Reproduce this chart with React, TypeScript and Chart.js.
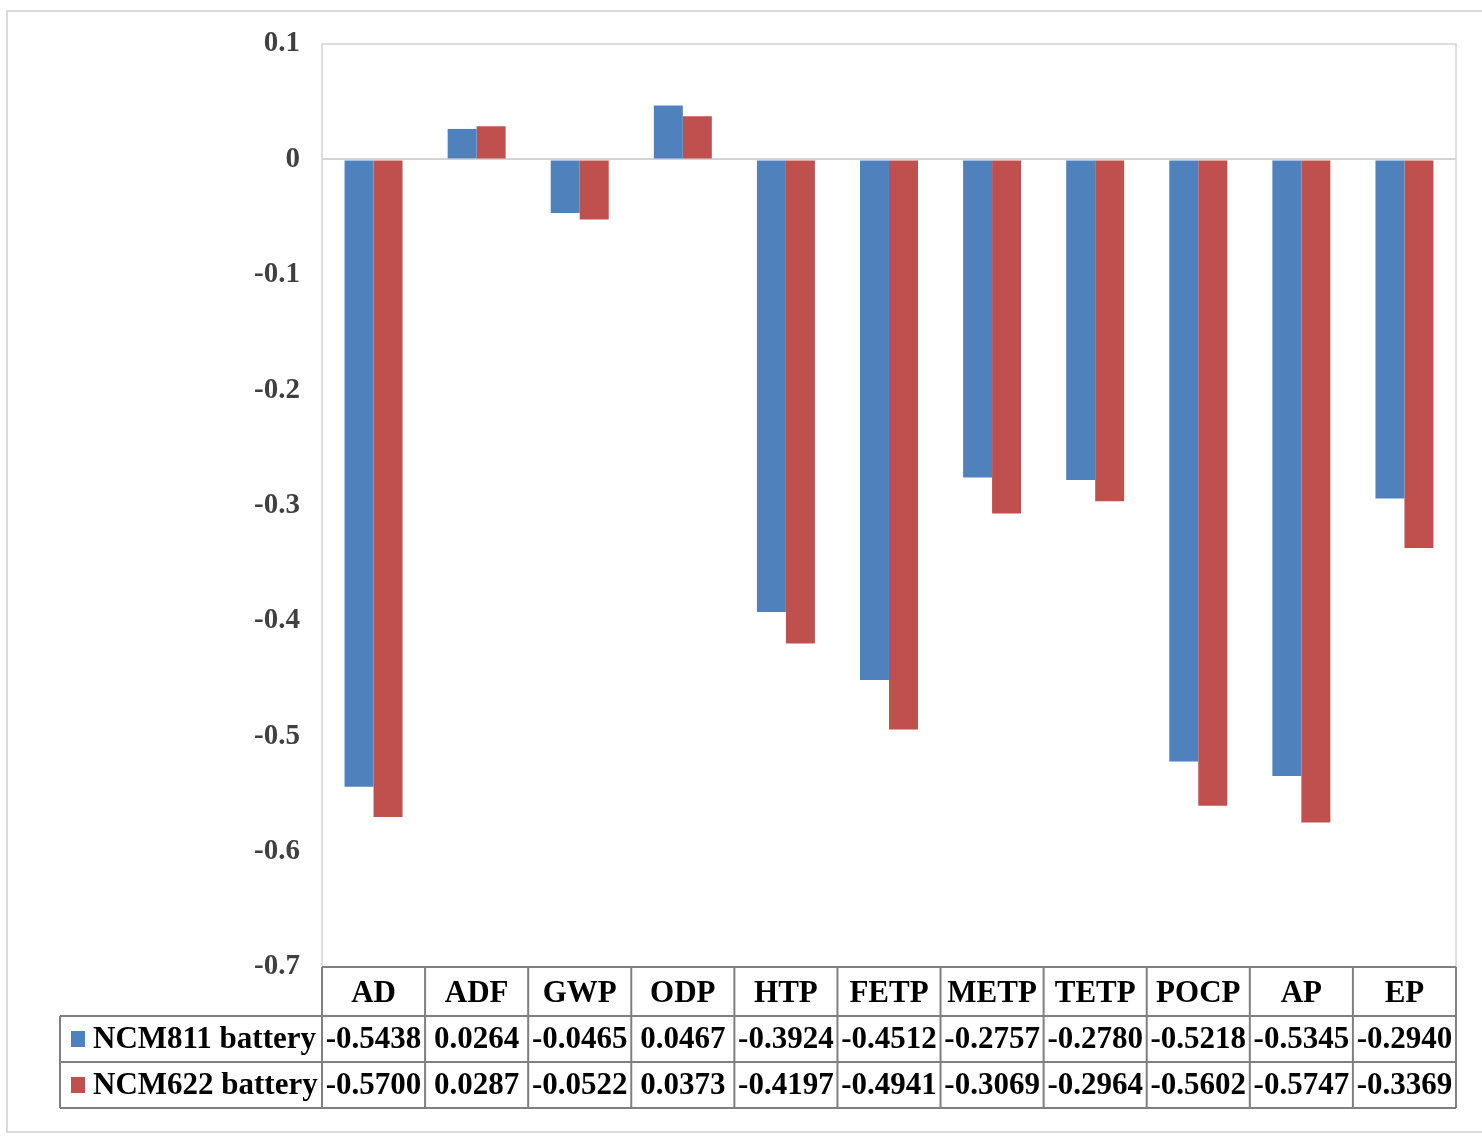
import React, { useEffect, useRef } from "react";
import { Chart, registerables } from "chart.js";

Chart.register(...registerables);

const categories = ["AD", "ADF", "GWP", "ODP", "HTP", "FETP", "METP", "TETP", "POCP", "AP", "EP"];
const ncm811 = [-0.5438, 0.0264, -0.0465, 0.0467, -0.3924, -0.4512, -0.2757, -0.278, -0.5218, -0.5345, -0.294];
const ncm622 = [-0.57, 0.0287, -0.0522, 0.0373, -0.4197, -0.4941, -0.3069, -0.2964, -0.5602, -0.5747, -0.3369];
const seriesNames = ["NCM811 battery", "NCM622 battery"];
const seriesColors = ["#4F81BD", "#C0504D"];
const yTicks = { min: -0.7, max: 0.1, step: 0.1 };

const FONT = '"Liberation Serif", "Times New Roman", serif';

// Outer frame, plot-area frame and the Excel-style data table under the x axis
const tablePlugin = {
  id: "dataTable",
  beforeDraw(chart: any) {
    const { ctx, chartArea } = chart;
    ctx.save();
    ctx.fillStyle = "#ffffff";
    ctx.fillRect(0, 0, chart.width, chart.height);
    ctx.strokeStyle = "#d9d9d9";
    ctx.lineWidth = 2;
    ctx.strokeRect(7, 11, chart.width + 10, 1121);
    ctx.lineWidth = 1.5;
    ctx.strokeStyle = "#d4d4d4";
    ctx.strokeRect(chartArea.left, chartArea.top, chartArea.right - chartArea.left, chartArea.bottom - chartArea.top);
    ctx.restore();
  },
  afterDraw(chart: any) {
    const { ctx, chartArea } = chart;
    const xs = chart.scales.x;
    const n = categories.length;
    const colW = (chartArea.right - chartArea.left) / n;
    const top = chartArea.bottom;
    const headH = 49;
    const rowH = 46;
    const legendLeft = 60;
    const rows = [ncm811, ncm622];
    const bottom = top + headH + rowH * rows.length;

    ctx.save();
    ctx.strokeStyle = "#7f7f7f";
    ctx.lineWidth = 2;
    // horizontal lines
    ctx.beginPath();
    ctx.moveTo(chartArea.left, top);
    ctx.lineTo(chartArea.right, top);
    for (let r = 0; r <= rows.length; r++) {
      const y = top + headH + rowH * r;
      ctx.moveTo(legendLeft, y);
      ctx.lineTo(chartArea.right, y);
    }
    // vertical lines
    ctx.moveTo(legendLeft, top + headH);
    ctx.lineTo(legendLeft, bottom);
    for (let i = 0; i <= n; i++) {
      const x = chartArea.left + colW * i;
      ctx.moveTo(x, top);
      ctx.lineTo(x, bottom);
    }
    ctx.stroke();

    ctx.fillStyle = "#000000";
    ctx.font = `bold 31px ${FONT}`;
    ctx.textAlign = "center";
    ctx.textBaseline = "middle";
    categories.forEach((c, i) => {
      const cx = xs.getPixelForValue(i);
      ctx.fillText(c, cx, top + headH / 2 + 2);
      rows.forEach((row, r) => {
        ctx.fillText(row[i].toFixed(4), cx, top + headH + rowH * r + rowH / 2 + 1);
      });
    });

    ctx.textAlign = "left";
    rows.forEach((_, r) => {
      const cy = top + headH + rowH * r + rowH / 2;
      ctx.fillStyle = seriesColors[r];
      ctx.fillRect(71, cy - 8, 14, 16);
      ctx.fillStyle = "#000000";
      ctx.fillText(seriesNames[r], 93, cy + 1);
    });
    ctx.restore();
  },
};

export default function App() {
  const ref = useRef<HTMLCanvasElement | null>(null);

  useEffect(() => {
    if (!ref.current) return;
    const chart = new Chart(ref.current, {
      type: "bar",
      data: {
        labels: categories,
        datasets: [
          { label: seriesNames[0], data: ncm811, backgroundColor: seriesColors[0] },
          { label: seriesNames[1], data: ncm622, backgroundColor: seriesColors[1] },
        ],
      },
      options: {
        responsive: false,
        animation: false,
        layout: { padding: { left: 0, top: 44, right: 26, bottom: 169 } },
        datasets: { bar: { categoryPercentage: 0.5625, barPercentage: 1.0 } },
        plugins: { legend: { display: false }, tooltip: { enabled: false } },
        scales: {
          x: { display: false },
          y: {
            min: yTicks.min,
            max: yTicks.max,
            afterFit: (s: any) => {
              s.width = 322;
            },
            border: { display: false },
            grid: {
              drawTicks: false,
              lineWidth: 2,
              color: (c: any) => (Math.abs(c.tick?.value ?? 1) < 1e-9 ? "#d4d4d4" : "rgba(0,0,0,0)"),
            },
            ticks: {
              stepSize: yTicks.step,
              padding: 22,
              color: "#404040",
              font: { family: FONT, size: 29, weight: "bold" },
              callback: (v: any) => (Math.abs(v) < 1e-9 ? "0" : Number(v).toFixed(1)),
            },
          },
        },
      },
      plugins: [tablePlugin],
    } as any);
    return () => chart.destroy();
  }, []);

  return (
    <div style={{ position: "absolute", left: 0, top: 0, width: 1482, height: 1136, background: "#fff" }}>
      <canvas ref={ref} width={1482} height={1136} style={{ display: "block" }} />
    </div>
  );
}
